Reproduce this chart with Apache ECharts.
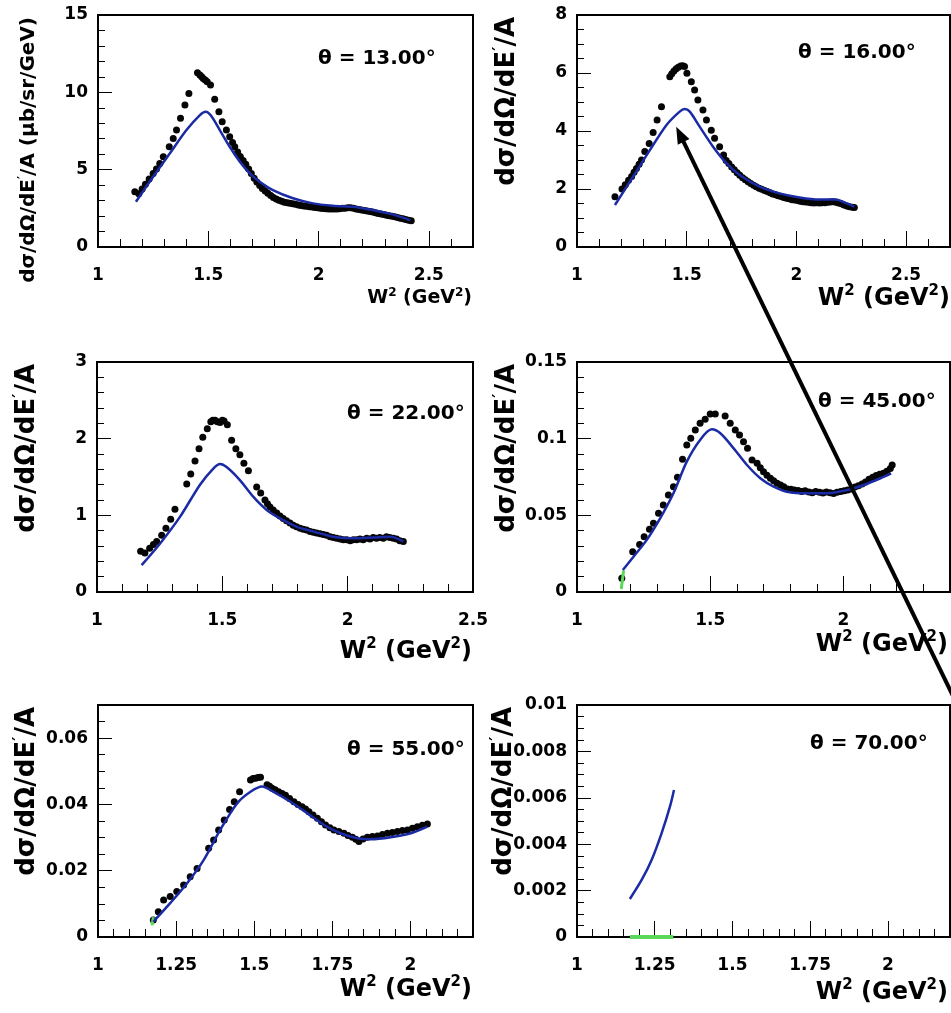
<!DOCTYPE html>
<html>
<head>
<meta charset="utf-8">
<script src="https://cdn.jsdelivr.net/npm/echarts@6/dist/echarts.min.js"></script>
<style>
  html, body { margin: 0; padding: 0; background: #fff; }
  #chart { width: 951px; height: 1013px; }
</style>
</head>
<body>
<div id="chart"></div>
<script>
// Inclusive cross sections dσ/dΩ/dE'/A versus W² at six scattering angles.
// Black dots: measurement; blue curve: model; green: small extra contribution.

const angles = ['13.00', '16.00', '22.00', '45.00', '55.00', '70.00'];

// [min, max, major step, minor step] for each panel
const xAxisSpec = [[1, 2.7, 0.5, 0.1], [1, 2.7, 0.5, 0.1], [1, 2.5, 0.5, 0.1],
                   [1, 2.4, 0.5, 0.1], [1, 2.2, 0.25, 0.05], [1, 2.2, 0.25, 0.05]];
const yAxisSpec = [[0, 15, 5, 1], [0, 8, 2, 0.5], [0, 3, 1, 0.2],
                   [0, 0.15, 0.05, 0.01], [0, 0.07, 0.02, 0.005], [0, 0.01, 0.002, 0.0005]];

// ---- theta = 13 deg ----
const data13 = [[1.167,3.57],[1.185,3.45],[1.2,3.75],[1.215,4.05],[1.232,4.4],[1.25,4.76],[1.265,5.05],[1.28,5.4],
  [1.296,5.84],[1.323,6.48],[1.341,7.02],[1.356,7.56],[1.374,8.32],[1.394,9.18],[1.412,9.93],[1.451,11.27],
  [1.462,11.12],[1.47,11.0],[1.477,10.9],[1.486,10.8],[1.495,10.69],[1.51,10.47],[1.529,9.55],[1.548,8.75],
  [1.563,8.1],[1.582,7.56],[1.597,7.13],[1.61,6.75],[1.62,6.48],[1.633,6.15],[1.645,5.85],[1.658,5.6],[1.67,5.35],
  [1.683,5.05],[1.695,4.75],[1.708,4.45],[1.72,4.2],[1.733,3.98],[1.745,3.78],[1.758,3.62],[1.77,3.48],[1.783,3.33],
  [1.795,3.2],[1.808,3.1],[1.82,3.02],[1.833,2.96],[1.845,2.9],[1.858,2.86],[1.87,2.83],[1.883,2.8],[1.895,2.76],
  [1.908,2.72],[1.92,2.68],[1.933,2.65],[1.945,2.63],[1.958,2.6],[1.97,2.58],[1.983,2.56],[1.995,2.53],[2.008,2.5],
  [2.02,2.49],[2.033,2.47],[2.045,2.45],[2.058,2.46],[2.07,2.45],[2.083,2.46],[2.095,2.48],[2.108,2.5],[2.12,2.51],
  [2.133,2.53],[2.145,2.53],[2.158,2.5],[2.17,2.46],[2.183,2.42],[2.195,2.39],[2.208,2.36],[2.22,2.32],[2.233,2.29],
  [2.245,2.26],[2.258,2.22],[2.27,2.17],[2.283,2.13],[2.295,2.1],[2.308,2.06],[2.32,2.02],[2.333,1.99],[2.345,1.95],
  [2.358,1.91],[2.37,1.86],[2.383,1.82],[2.395,1.78],[2.408,1.73],[2.42,1.7]];
const model13 = [[1.172,2.93],[1.25,4.54],[1.326,6.06],[1.401,7.56],[1.462,8.53],[1.488,8.75],[1.512,8.5],
  [1.552,7.56],[1.597,6.48],[1.643,5.52],[1.688,4.76],[1.733,4.22],[1.793,3.68],[1.884,3.15],[1.974,2.82],
  [2.065,2.67],[2.155,2.6],[2.2,2.5],[2.246,2.39],[2.336,2.11],[2.415,1.74]];

// ---- theta = 16 deg ----
const data16 = [[1.173,1.73],[1.205,2.0],[1.22,2.15],[1.235,2.3],[1.249,2.43],[1.26,2.58],[1.271,2.71],[1.283,2.85],
  [1.294,3.0],[1.309,3.29],[1.329,3.57],[1.347,3.95],[1.365,4.38],[1.385,4.84],[1.423,5.87],[1.432,5.97],[1.442,6.07],
  [1.452,6.15],[1.462,6.2],[1.472,6.24],[1.482,6.25],[1.49,6.22],[1.501,5.99],[1.521,5.7],[1.536,5.41],[1.551,5.07],
  [1.574,4.72],[1.59,4.38],[1.612,4.03],[1.627,3.75],[1.65,3.46],[1.668,3.17],[1.68,2.98],[1.692,2.88],[1.705,2.76],
  [1.717,2.66],[1.73,2.56],[1.742,2.47],[1.755,2.39],[1.767,2.32],[1.78,2.25],[1.792,2.19],[1.805,2.13],[1.817,2.08],
  [1.83,2.03],[1.842,1.99],[1.855,1.95],[1.867,1.91],[1.88,1.87],[1.892,1.83],[1.905,1.8],[1.917,1.77],[1.93,1.74],
  [1.942,1.71],[1.955,1.68],[1.967,1.66],[1.98,1.63],[1.992,1.62],[2.005,1.6],[2.017,1.58],[2.03,1.56],[2.042,1.55],
  [2.055,1.54],[2.067,1.53],[2.08,1.52],[2.092,1.53],[2.105,1.52],[2.117,1.53],[2.13,1.53],[2.142,1.54],[2.155,1.55],
  [2.167,1.56],[2.18,1.54],[2.192,1.52],[2.205,1.49],[2.217,1.45],[2.23,1.41],[2.242,1.39],[2.255,1.37],[2.264,1.36]];
const model16 = [[1.173,1.45],[1.256,2.43],[1.332,3.34],[1.408,4.21],[1.468,4.67],[1.491,4.76],[1.514,4.67],
  [1.559,4.15],[1.62,3.46],[1.681,2.89],[1.741,2.48],[1.832,2.08],[1.923,1.85],[2.014,1.71],[2.105,1.64],
  [2.18,1.64],[2.226,1.51],[2.264,1.39]];

// ---- theta = 22 deg ----
const data22 = [[1.174,0.53],[1.191,0.51],[1.21,0.57],[1.225,0.62],[1.238,0.66],[1.258,0.74],[1.275,0.83],[1.294,0.95],
  [1.311,1.08],[1.358,1.41],[1.374,1.54],[1.391,1.71],[1.407,1.87],[1.422,2.02],[1.44,2.13],[1.454,2.22],[1.462,2.24],
  [1.471,2.24],[1.48,2.22],[1.491,2.21],[1.5,2.24],[1.507,2.23],[1.52,2.18],[1.537,1.98],[1.554,1.87],[1.57,1.79],
  [1.586,1.68],[1.604,1.58],[1.637,1.37],[1.653,1.29],[1.67,1.2],[1.68,1.15],[1.69,1.11],[1.703,1.07],[1.717,1.03],
  [1.73,0.99],[1.743,0.96],[1.756,0.93],[1.77,0.9],[1.783,0.87],[1.796,0.85],[1.81,0.83],[1.823,0.82],[1.836,0.81],
  [1.85,0.79],[1.863,0.78],[1.876,0.77],[1.89,0.76],[1.903,0.75],[1.916,0.74],[1.93,0.72],[1.943,0.71],[1.956,0.7],
  [1.97,0.69],[1.983,0.68],[1.996,0.68],[2.01,0.67],[2.023,0.68],[2.036,0.68],[2.049,0.69],[2.062,0.68],[2.076,0.7],
  [2.089,0.69],[2.102,0.71],[2.115,0.7],[2.128,0.71],[2.142,0.7],[2.155,0.72],[2.168,0.71],[2.182,0.7],[2.195,0.69],
  [2.208,0.67],[2.222,0.66]];
const model22 = [[1.178,0.35],[1.251,0.63],[1.331,0.98],[1.411,1.4],[1.464,1.61],[1.491,1.67],[1.517,1.63],
  [1.57,1.46],[1.624,1.24],[1.677,1.07],[1.73,0.96],[1.797,0.85],[1.863,0.79],[1.943,0.72],[2.023,0.7],
  [2.103,0.71],[2.169,0.72],[2.222,0.66]];

// ---- theta = 45 deg ----
const data45 = [[1.168,0.0089],[1.209,0.0263],[1.235,0.031],[1.252,0.036],[1.272,0.0409],[1.287,0.0448],[1.306,0.0513],
  [1.324,0.0568],[1.343,0.0633],[1.362,0.0687],[1.377,0.0748],[1.396,0.0866],[1.412,0.0959],[1.427,0.1003],
  [1.444,0.1057],[1.462,0.11],[1.481,0.1127],[1.5,0.1161],[1.519,0.1161],[1.556,0.1148],[1.575,0.11],[1.594,0.1057],
  [1.61,0.1024],[1.625,0.098],[1.64,0.0937],[1.657,0.0861],[1.676,0.084],[1.688,0.081],[1.7,0.0785],[1.713,0.0762],
  [1.726,0.0742],[1.738,0.0725],[1.751,0.0709],[1.764,0.0698],[1.776,0.0687],[1.79,0.0672],[1.803,0.067],
  [1.816,0.0665],[1.83,0.0662],[1.843,0.0655],[1.856,0.066],[1.87,0.0652],[1.883,0.0648],[1.896,0.0655],
  [1.91,0.065],[1.923,0.0645],[1.936,0.0652],[1.95,0.0648],[1.963,0.0642],[1.976,0.065],[1.99,0.0655],
  [2.003,0.066],[2.016,0.0665],[2.03,0.0672],[2.043,0.0685],[2.056,0.0693],[2.07,0.0705],[2.083,0.0718],
  [2.096,0.0735],[2.11,0.0748],[2.123,0.076],[2.136,0.0768],[2.15,0.0775],[2.163,0.0788],[2.176,0.0805],[2.183,0.0828]];
const model45 = [[1.172,0.0143],[1.212,0.023],[1.262,0.034],[1.312,0.048],[1.362,0.0644],[1.412,0.085],
  [1.462,0.0992],[1.506,0.1061],[1.538,0.1035],[1.588,0.0937],[1.638,0.0828],[1.688,0.0742],[1.738,0.0687],
  [1.788,0.0654],[1.863,0.0644],[1.939,0.0644],[2.014,0.0665],[2.077,0.0698],[2.139,0.0742],[2.179,0.0774]];
const extra45 = [[1.166,0.002],[1.175,0.014]];

// ---- theta = 55 deg ----
const data55 = [[1.177,0.0051],[1.193,0.0076],[1.21,0.0112],[1.231,0.0122],[1.252,0.0137],[1.274,0.0157],
  [1.295,0.0182],[1.317,0.0207],[1.354,0.0268],[1.37,0.0293],[1.386,0.0323],[1.404,0.0353],[1.421,0.0385],
  [1.436,0.0408],[1.453,0.0438],[1.488,0.0474],[1.496,0.0478],[1.504,0.0479],[1.512,0.0481],[1.52,0.0482],
  [1.541,0.0459],[1.549,0.0455],[1.557,0.0449],[1.567,0.0444],[1.578,0.0438],[1.589,0.0433],[1.6,0.0428],
  [1.613,0.0418],[1.627,0.0408],[1.64,0.04],[1.653,0.0393],[1.664,0.0386],[1.675,0.0378],[1.688,0.0368],
  [1.702,0.0358],[1.715,0.0348],[1.728,0.0338],[1.742,0.033],[1.755,0.0323],[1.771,0.0318],[1.787,0.0313],
  [1.8,0.0306],[1.814,0.0301],[1.825,0.0295],[1.835,0.0288],[1.848,0.0296],[1.862,0.0301],[1.878,0.0303],
  [1.894,0.0305],[1.91,0.0309],[1.926,0.0313],[1.942,0.0315],[1.958,0.0318],[1.974,0.0321],[1.99,0.0323],
  [2.006,0.0328],[2.022,0.0333],[2.038,0.0337],[2.054,0.0341]];
const model55 = [[1.177,0.0046],[1.231,0.0102],[1.285,0.0162],[1.338,0.0232],[1.391,0.0323],[1.445,0.0403],
  [1.488,0.0438],[1.525,0.0454],[1.562,0.0438],[1.616,0.0408],[1.67,0.0373],[1.723,0.0338],[1.776,0.0313],
  [1.83,0.0298],[1.873,0.0295],[1.937,0.0301],[2.001,0.0313],[2.054,0.0333]];
const extra55 = [[1.173,0.0035],[1.177,0.006]];

// ---- theta = 70 deg ----
const data70 = [];
const model70 = [[1.17,0.00164],[1.208,0.00246],[1.24,0.00332],[1.272,0.00447],[1.299,0.00562],[1.312,0.00634]];
const extra70 = [[1.17,0],[1.31,0]];

const measured = [data13, data16, data22, data45, data55, data70];
const models = [model13, model16, model22, model45, model55, model70];
const extras = [null, null, null, extra45, extra55, extra70];

// ---------------- layout ----------------
const FONT = '"DejaVu Sans", "Liberation Sans", sans-serif';
// [left, top, width, height] of each frame
const boxes = [[98, 15, 375, 232], [577, 15, 373, 232], [97, 362, 376, 230],
               [577, 362, 373, 230], [98, 705, 375, 232], [577, 705, 373, 232]];
// y-title: distance of its centre line from the axis, font size
const yTitleSpec = [[69, 20], [70, 26], [70, 26], [70, 26], [71, 26], [73, 26]];
// x-title: right edge, top, font size
const xTitleSpec = [[472, 287, 19], [950, 284, 24], [472, 637, 24], [948, 630, 24], [472, 975, 24], [948, 978, 24]];
// angle label: left, top
const angleSpec = [[318, 47], [798, 41], [347, 402], [818, 390], [347, 738], [810, 732]];

function isMultiple(v, step) {
  const r = v / step;
  return Math.abs(r - Math.round(r)) < 1e-6;
}

const grid = [], xAxis = [], yAxis = [], series = [];
const labelStyle = { color: '#000', fontFamily: FONT, fontWeight: 'bold', fontSize: 17 };

boxes.forEach((b, i) => {
  grid.push({ left: b[0], top: b[1], width: b[2], height: b[3], show: true,
    borderColor: '#000', borderWidth: 2, backgroundColor: '#fff',
    containLabel: false, outerBoundsMode: 'none' });
  const [x0, x1, xs, xm] = xAxisSpec[i];
  const [y0, y1, ys, ym] = yAxisSpec[i];
  // major axis with labels and long ticks
  xAxis.push({ type: 'value', gridIndex: i, min: x0, max: x1, interval: xs, position: 'bottom',
    axisLine: { show: false }, splitLine: { show: false },
    axisTick: { inside: true, length: 16, lineStyle: { color: '#000', width: 1 } },
    axisLabel: Object.assign({ margin: 20, showMaxLabel: isMultiple(x1 - x0, xs) }, labelStyle) });
  // minor ticks
  xAxis.push({ type: 'value', gridIndex: i, min: x0, max: x1, interval: xm, position: 'bottom',
    axisLine: { show: false }, splitLine: { show: false }, axisLabel: { show: false },
    axisTick: { inside: true, length: 8, lineStyle: { color: '#000', width: 1 } } });
  yAxis.push({ type: 'value', gridIndex: i, min: y0, max: y1, interval: ys, position: 'left',
    axisLine: { show: false }, splitLine: { show: false },
    axisTick: { inside: true, length: 14, lineStyle: { color: '#000', width: 1 } },
    axisLabel: Object.assign({ margin: 10, showMaxLabel: isMultiple(y1 - y0, ys) }, labelStyle) });
  yAxis.push({ type: 'value', gridIndex: i, min: y0, max: y1, interval: ym, position: 'left',
    axisLine: { show: false }, splitLine: { show: false }, axisLabel: { show: false },
    axisTick: { inside: true, length: 7, lineStyle: { color: '#000', width: 1 } } });

  const ax = 2 * i;
  if (measured[i].length) {
    series.push({ type: 'scatter', name: 'data ' + angles[i], xAxisIndex: ax, yAxisIndex: ax,
      data: measured[i], symbol: 'circle', symbolSize: 7,
      itemStyle: { color: '#050505', opacity: 1 }, z: 2 });
  }
  if (extras[i]) {
    series.push({ type: 'line', name: 'extra ' + angles[i], xAxisIndex: ax, yAxisIndex: ax,
      data: extras[i], showSymbol: false, lineStyle: { color: '#5ad85a', width: i === 5 ? 4 : 3 }, z: 3 });
  }
  series.push({ type: 'line', name: 'model ' + angles[i], xAxisIndex: ax, yAxisIndex: ax,
    data: models[i], showSymbol: false, smooth: 0.3,
    lineStyle: { color: '#1b2ba5', width: 2.5 }, z: 4 });
});

function richStyles(size) {
  return {
    sp: { fontSize: Math.round(size * 0.62), fontWeight: 'bold', fontFamily: FONT, fill: '#000',
          verticalAlign: 'top', lineHeight: Math.round(size * 0.7) }
  };
}
function textStyle(text, size, align, vAlign) {
  return { text: text, rich: richStyles(size), fontSize: size, fontWeight: 'bold', fontFamily: FONT,
    fill: '#000', lineHeight: Math.round(size * 1.2), align: align, verticalAlign: vAlign,
    textAlign: align, textVerticalAlign: vAlign };
}

const graphic = [];
boxes.forEach((b, i) => {
  const yt = i === 0 ? 'dσ/dΩ/dE{sp|′}/A (μb/sr/GeV)' : 'dσ/dΩ/dE{sp|′}/A';
  graphic.push({ type: 'text', id: 'ytitle' + i, x: b[0] - yTitleSpec[i][0], y: b[1] + 2,
    rotation: Math.PI / 2, z: 50, style: textStyle(yt, yTitleSpec[i][1], 'right', 'middle') });
  graphic.push({ type: 'text', id: 'xtitle' + i, x: xTitleSpec[i][0], y: xTitleSpec[i][1], z: 50,
    style: textStyle('W{sp|2} (GeV{sp|2})', xTitleSpec[i][2], 'right', 'top') });
  graphic.push({ type: 'text', id: 'angle' + i, x: angleSpec[i][0], y: angleSpec[i][1], z: 50,
    style: textStyle('θ = ' + angles[i] + '°', 20, 'left', 'top') });
});

const chart = echarts.init(document.getElementById('chart'), null, { renderer: 'canvas' });
chart.setOption({ animation: false, backgroundColor: '#fff', grid, xAxis, yAxis, series, graphic });

// Pointer arrow onto the rising edge of the 16 deg model curve
const tip = chart.convertToPixel({ gridIndex: 1 }, [1.452, 4.15]);
const dir = [264, 543];
const len = Math.hypot(dir[0], dir[1]);
const ux = dir[0] / len, uy = dir[1] / len;
const nx = -uy, ny = ux;
const headLen = 17, headHalf = 6.5;
chart.setOption({
  graphic: [
    { type: 'line', id: 'arrowShaft', z: 100,
      shape: { x1: tip[0] + ux * (headLen - 2), y1: tip[1] + uy * (headLen - 2),
               x2: tip[0] + ux * 700, y2: tip[1] + uy * 700 },
      style: { stroke: '#000', lineWidth: 4 } },
    { type: 'polygon', id: 'arrowHead', z: 100,
      shape: { points: [[tip[0], tip[1]],
        [tip[0] + ux * headLen + nx * headHalf, tip[1] + uy * headLen + ny * headHalf],
        [tip[0] + ux * headLen - nx * headHalf, tip[1] + uy * headLen - ny * headHalf]] },
      style: { fill: '#000' } }
  ]
});
</script>
</body>
</html>
